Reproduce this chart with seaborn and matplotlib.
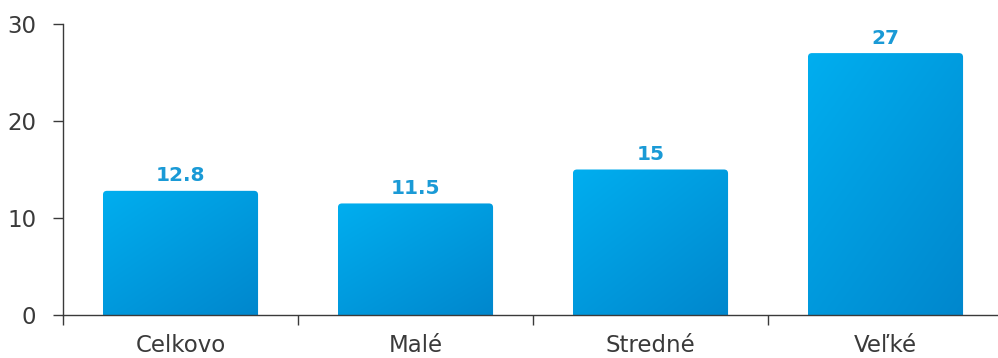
import numpy as np
import pandas as pd
import matplotlib
matplotlib.use("Agg")
import matplotlib.pyplot as plt
from matplotlib.patches import FancyBboxPatch
from matplotlib.colors import LinearSegmentedColormap
import seaborn as sns

categories = ["Celkovo", "Malé", "Stredné", "Veľké"]
values = [12.8, 11.5, 15, 27]
value_labels = ["12.8", "11.5", "15", "27"]
y_ticks = [0, 10, 20, 30]

sns.set_theme(style="white")
plt.rcParams["font.family"] = ["DejaVu Sans"]

text_color = "#3a3a3a"
label_color = "#1a9ad6"
grad = LinearSegmentedColormap.from_list("bar_grad", ["#00aeef", "#0087cd"])

W, H = 998, 358
fig = plt.figure(figsize=(W / 100, H / 100), dpi=100)
ax = fig.add_axes([63 / W, 43 / H, 940 / W, 291 / H])

df = pd.DataFrame({"cat": categories, "val": values})
sns.barplot(data=df, x="cat", y="val", ax=ax, width=0.66, color="#00aeef")

ax.set_xlim(-0.5, len(categories) - 0.5)
ax.set_ylim(0, 30)

# pixel -> data scale for rounded top corners
x_per_px = (len(categories)) / 940
y_per_px = 30 / 291
r_px = 4

# gradient-filled bars with rounded top corners (light top-left, dark bottom-right)
gx, gy = np.meshgrid(np.linspace(0, 1, 64), np.linspace(0, 1, 256))
gfield = (gx * 0.45 + gy * 0.55)
for patch, lab in zip(ax.patches, value_labels):
    x0 = patch.get_x()
    w = patch.get_width()
    h = patch.get_height()
    patch.set_visible(False)
    clip = FancyBboxPatch(
        (x0, -r_px * y_per_px * 2), w, h + r_px * y_per_px * 2,
        boxstyle=f"round,pad=0,rounding_size={r_px * x_per_px}",
        mutation_aspect=y_per_px / x_per_px,
        transform=ax.transData, facecolor="none", edgecolor="none",
    )
    ax.add_patch(clip)
    img = ax.imshow(gfield, cmap=grad, extent=(x0, x0 + w, 0, h),
                    origin="upper", aspect="auto", zorder=2,
                    interpolation="bilinear")
    img.set_clip_path(clip)
    ax.annotate(lab, (x0 + w / 2, h), xytext=(0, 4), textcoords="offset points",
                ha="center", va="bottom", fontsize=14.5, fontweight="bold",
                color=label_color, zorder=3)

ax.set_xlim(-0.5, len(categories) - 0.5)
ax.set_ylim(0, 30)

ax.set_xlabel("")
ax.set_ylabel("")
ax.set_yticks(y_ticks)
ax.set_yticklabels([str(t) for t in y_ticks], fontsize=16.5, color=text_color)
ax.set_xticks(range(len(categories)))
ax.set_xticklabels(categories, fontsize=16.5, color=text_color)
ax.set_xticks(np.arange(-0.5, len(categories), 1.0), minor=True)

ax.tick_params(axis="y", which="major", left=True, length=7.2, width=1,
               color=text_color, pad=12)
ax.tick_params(axis="x", which="major", bottom=False, pad=8)
ax.tick_params(axis="x", which="minor", bottom=True, length=7.2, width=1,
               color=text_color)

for s in ["top", "right"]:
    ax.spines[s].set_visible(False)
for s in ["left", "bottom"]:
    ax.spines[s].set_color(text_color)
    ax.spines[s].set_linewidth(1)

fig.savefig("out.png", dpi=100)
